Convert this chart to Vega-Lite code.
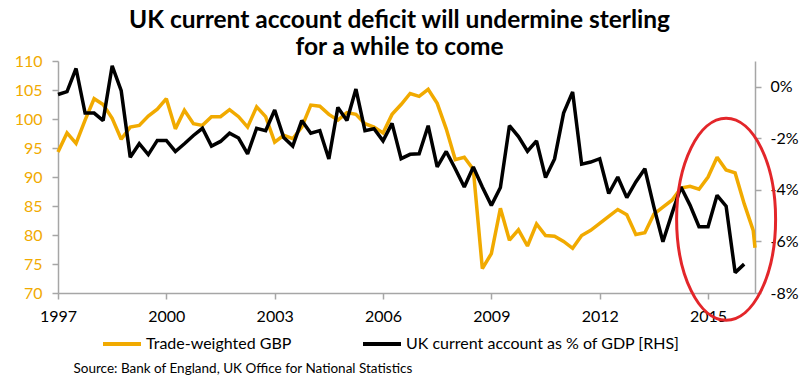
{
  "$schema": "https://vega.github.io/schema/vega-lite/v6.json",
  "width": 697,
  "height": 232,
  "autosize": {"type": "none"},
  "padding": {"left": 58, "top": 61, "right": 48, "bottom": 83},
  "background": "white",
  "title": {
    "text": ["UK current account deficit will undermine sterling", "for a while to come"],
    "font": "Lato",
    "fontSize": 24.5,
    "fontWeight": "bold",
    "color": "#000000",
    "anchor": "middle",
    "frame": "group",
    "lineHeight": 27,
    "dx": -7,
    "offset": -7
  },
  "config": {
    "view": {"stroke": null},
    "font": "Lato",
    "axis": {
      "grid": false,
      "domainColor": "#A6A6A6",
      "domainWidth": 1.5,
      "tickColor": "#A6A6A6",
      "tickWidth": 1.5,
      "tickSize": 6,
      "labelFont": "Lato",
      "labelFontSize": 16,
      "labelColor": "#000000",
      "titleFont": "Lato"
    },
    "legend": {
      "orient": "none",
      "legendX": 43,
      "legendY": 262,
      "direction": "horizontal",
      "symbolType": "stroke",
      "symbolStrokeWidth": 4,
      "symbolSize": 1444,
      "labelFont": "Lato",
      "labelFontSize": 16,
      "labelColor": "#000000",
      "labelOffset": 3,
      "labelLimit": 500,
      "columnPadding": 63,
      "padding": 0,
      "title": null
    }
  },
  "datasets": {
    "gbp": [
      {"t": 1997.00, "v": 94.3}, {"t": 1997.25, "v": 97.6}, {"t": 1997.50, "v": 95.8}, {"t": 1997.75, "v": 99.8},
      {"t": 1998.00, "v": 103.5}, {"t": 1998.25, "v": 102.5}, {"t": 1998.50, "v": 100.1}, {"t": 1998.75, "v": 96.5},
      {"t": 1999.00, "v": 98.6}, {"t": 1999.25, "v": 98.9}, {"t": 1999.50, "v": 100.5}, {"t": 1999.75, "v": 101.7},
      {"t": 2000.00, "v": 103.5}, {"t": 2000.25, "v": 98.3}, {"t": 2000.50, "v": 101.5}, {"t": 2000.75, "v": 99.2},
      {"t": 2001.00, "v": 98.9}, {"t": 2001.25, "v": 100.4}, {"t": 2001.50, "v": 100.4}, {"t": 2001.75, "v": 101.6},
      {"t": 2002.00, "v": 100.4}, {"t": 2002.25, "v": 98.6}, {"t": 2002.50, "v": 102.1}, {"t": 2002.75, "v": 100.4},
      {"t": 2003.00, "v": 96.0}, {"t": 2003.25, "v": 97.2}, {"t": 2003.50, "v": 96.6}, {"t": 2003.75, "v": 98.6},
      {"t": 2004.00, "v": 102.4}, {"t": 2004.25, "v": 102.2}, {"t": 2004.50, "v": 100.8}, {"t": 2004.75, "v": 99.8},
      {"t": 2005.00, "v": 101.1}, {"t": 2005.25, "v": 100.8}, {"t": 2005.50, "v": 99.2}, {"t": 2005.75, "v": 98.6},
      {"t": 2006.00, "v": 97.6}, {"t": 2006.25, "v": 100.8}, {"t": 2006.50, "v": 102.5}, {"t": 2006.75, "v": 104.4},
      {"t": 2007.00, "v": 103.9}, {"t": 2007.25, "v": 105.1}, {"t": 2007.50, "v": 102.7}, {"t": 2007.75, "v": 98.3},
      {"t": 2008.00, "v": 93.0}, {"t": 2008.25, "v": 93.4}, {"t": 2008.50, "v": 91.3}, {"t": 2008.75, "v": 74.2},
      {"t": 2009.00, "v": 76.8}, {"t": 2009.25, "v": 84.6}, {"t": 2009.50, "v": 79.1}, {"t": 2009.75, "v": 80.9},
      {"t": 2010.00, "v": 78.1}, {"t": 2010.25, "v": 81.9}, {"t": 2010.50, "v": 79.9}, {"t": 2010.75, "v": 79.8},
      {"t": 2011.00, "v": 78.9}, {"t": 2011.25, "v": 77.7}, {"t": 2011.50, "v": 79.9}, {"t": 2011.75, "v": 80.8},
      {"t": 2012.00, "v": 82.0}, {"t": 2012.25, "v": 83.2}, {"t": 2012.50, "v": 84.4}, {"t": 2012.75, "v": 83.5},
      {"t": 2013.00, "v": 80.1}, {"t": 2013.25, "v": 80.4}, {"t": 2013.50, "v": 83.6}, {"t": 2013.75, "v": 84.8},
      {"t": 2014.00, "v": 86.0}, {"t": 2014.25, "v": 88.1}, {"t": 2014.50, "v": 88.4}, {"t": 2014.75, "v": 87.9},
      {"t": 2015.00, "v": 90.0}, {"t": 2015.25, "v": 93.4}, {"t": 2015.50, "v": 91.2}, {"t": 2015.75, "v": 90.7},
      {"t": 2016.00, "v": 85.4}, {"t": 2016.25, "v": 80.8}, {"t": 2016.30, "v": 77.8}
    ],
    "ca": [
      {"t": 1997.00, "v": -0.30}, {"t": 1997.25, "v": -0.19}, {"t": 1997.50, "v": 0.71}, {"t": 1997.75, "v": -1.02},
      {"t": 1998.00, "v": -1.02}, {"t": 1998.25, "v": -1.31}, {"t": 1998.50, "v": 0.81}, {"t": 1998.75, "v": -0.15},
      {"t": 1999.00, "v": -2.73}, {"t": 1999.25, "v": -2.21}, {"t": 1999.50, "v": -2.63}, {"t": 1999.75, "v": -2.08},
      {"t": 2000.00, "v": -2.08}, {"t": 2000.25, "v": -2.51}, {"t": 2000.50, "v": -2.21}, {"t": 2000.75, "v": -1.89},
      {"t": 2001.00, "v": -1.61}, {"t": 2001.25, "v": -2.30}, {"t": 2001.50, "v": -2.12}, {"t": 2001.75, "v": -1.80},
      {"t": 2002.00, "v": -1.99}, {"t": 2002.25, "v": -2.60}, {"t": 2002.50, "v": -1.61}, {"t": 2002.75, "v": -1.70},
      {"t": 2003.00, "v": -0.90}, {"t": 2003.25, "v": -1.97}, {"t": 2003.50, "v": -2.30}, {"t": 2003.75, "v": -1.31},
      {"t": 2004.00, "v": -1.80}, {"t": 2004.25, "v": -1.70}, {"t": 2004.50, "v": -2.80}, {"t": 2004.75, "v": -0.80},
      {"t": 2005.00, "v": -1.31}, {"t": 2005.25, "v": -0.09}, {"t": 2005.50, "v": -1.70}, {"t": 2005.75, "v": -1.63},
      {"t": 2006.00, "v": -2.10}, {"t": 2006.25, "v": -1.42}, {"t": 2006.50, "v": -2.79}, {"t": 2006.75, "v": -2.62},
      {"t": 2007.00, "v": -2.60}, {"t": 2007.25, "v": -1.51}, {"t": 2007.50, "v": -3.11}, {"t": 2007.75, "v": -2.51},
      {"t": 2008.00, "v": -3.18}, {"t": 2008.25, "v": -3.89}, {"t": 2008.50, "v": -3.11}, {"t": 2008.75, "v": -3.89},
      {"t": 2009.00, "v": -4.60}, {"t": 2009.25, "v": -3.91}, {"t": 2009.50, "v": -1.51}, {"t": 2009.75, "v": -1.93},
      {"t": 2010.00, "v": -2.50}, {"t": 2010.25, "v": -2.10}, {"t": 2010.50, "v": -3.52}, {"t": 2010.75, "v": -2.80},
      {"t": 2011.00, "v": -1.02}, {"t": 2011.25, "v": -0.20}, {"t": 2011.50, "v": -3.00}, {"t": 2011.75, "v": -2.92},
      {"t": 2012.00, "v": -2.79}, {"t": 2012.25, "v": -4.14}, {"t": 2012.50, "v": -3.50}, {"t": 2012.75, "v": -4.30},
      {"t": 2013.00, "v": -3.69}, {"t": 2013.25, "v": -3.18}, {"t": 2013.50, "v": -4.66}, {"t": 2013.75, "v": -6.01},
      {"t": 2014.00, "v": -4.92}, {"t": 2014.25, "v": -3.89}, {"t": 2014.50, "v": -4.59}, {"t": 2014.75, "v": -5.43},
      {"t": 2015.00, "v": -5.43}, {"t": 2015.25, "v": -4.21}, {"t": 2015.50, "v": -4.63}, {"t": 2015.75, "v": -7.21},
      {"t": 2016.00, "v": -6.88}
    ],
    "ring": [
      {"t": 2015.5, "v": -5.14}
    ]
  },
  "encoding": {
    "x": {
      "field": "t",
      "type": "quantitative",
      "scale": {"domain": [1997, 2016.3], "nice": false, "zero": false},
      "axis": {
        "values": [1997, 2000, 2003, 2006, 2009, 2012, 2015],
        "format": "d",
        "labelPadding": 9,
        "labelFlush": false,
        "labelOverlap": false,
        "title": "Source: Bank of England, UK Office for National Statistics",
        "titleFontSize": 13.5,
        "titleFontWeight": "normal",
        "titleColor": "#000000",
        "titleAnchor": "start",
        "titleAlign": "left",
        "titleBaseline": "alphabetic",
        "titleX": 15,
        "titleY": 79
      }
    }
  },
  "layer": [
    {
      "data": {"name": "gbp"},
      "mark": {"type": "line", "strokeWidth": 3.5, "strokeJoin": "miter", "strokeMiterLimit": 2},
      "encoding": {
        "y": {
          "field": "v",
          "type": "quantitative",
          "scale": {"domain": [70, 110], "nice": false, "zero": false},
          "axis": {
            "orient": "left",
            "values": [70, 75, 80, 85, 90, 95, 100, 105, 110],
            "labelColor": "#F1AA00",
            "labelPadding": 10,
            "title": null
          }
        },
        "color": {
          "datum": "Trade-weighted GBP",
          "type": "nominal",
          "scale": {
            "domain": ["Trade-weighted GBP", "UK current account as % of GDP [RHS]"],
            "range": ["#F1AA00", "#000000"]
          }
        }
      }
    },
    {
      "layer": [
        {
          "data": {"name": "ca"},
          "mark": {"type": "line", "strokeWidth": 3.5, "strokeJoin": "miter", "strokeMiterLimit": 2},
          "encoding": {
            "y": {
              "field": "v",
              "type": "quantitative",
              "scale": {"domain": [-8, 1], "nice": false, "zero": false},
              "axis": {
                "orient": "right",
                "values": [0, -2, -4, -6, -8],
                "labelExpr": "datum.value == 0 ? '0%' : '-' + abs(datum.value) + '%'",
                "labelPadding": 9,
                "title": null
              }
            },
            "color": {"datum": "UK current account as % of GDP [RHS]", "type": "nominal"}
          }
        },
        {
          "data": {"name": "ring"},
          "mark": {
            "type": "point",
            "shape": "M -0.49 0 A 0.49 1 0 1 0 0.49 0 A 0.49 1 0 1 0 -0.49 0 Z",
            "filled": false,
            "stroke": "#E3262A",
            "strokeWidth": 3,
            "size": 40804,
            "opacity": 1,
            "clip": false
          },
          "encoding": {
            "y": {"field": "v", "type": "quantitative"}
          }
        }
      ]
    }
  ],
  "resolve": {"scale": {"y": "independent"}}
}
